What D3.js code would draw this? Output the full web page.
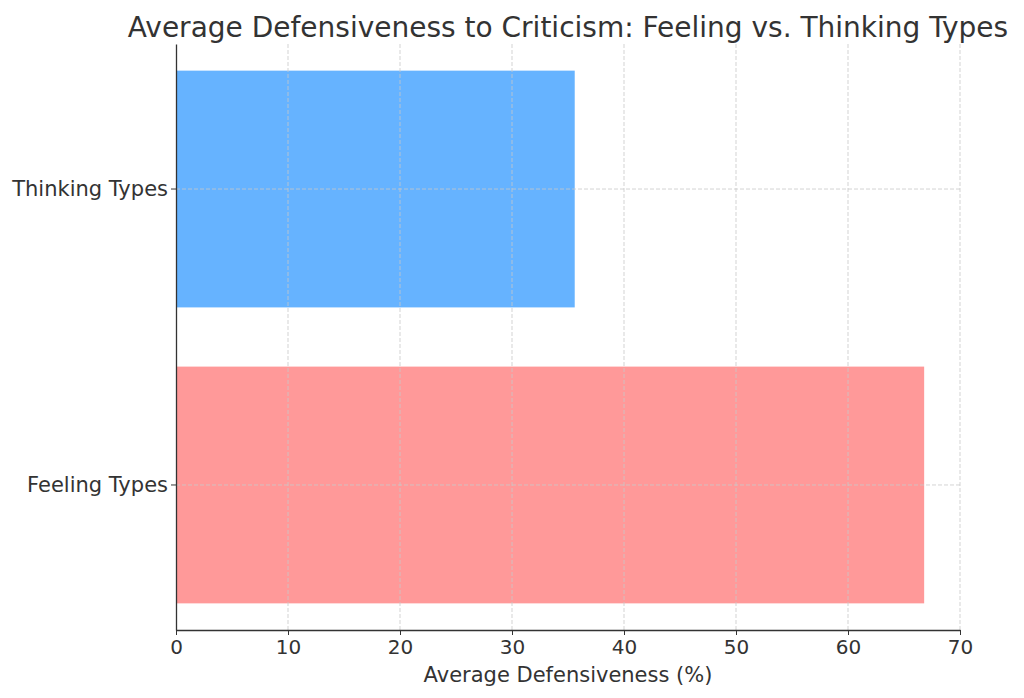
<!DOCTYPE html>
<html>
<head>
<meta charset="utf-8">
<script src="https://cdn.jsdelivr.net/npm/d3@7"></script>
<style>
  body { margin: 0; background: #fff; }
  text { font-family: "DejaVu Sans", sans-serif; fill: #333; }
</style>
</head>
<body>
<div id="chart"></div>
<script>
// data
const categories = ["Thinking Types", "Feeling Types"];
const values = [35.6, 66.8];
const colors = ["#66b3ff", "#ff9999"];
const xTicks = [0, 10, 20, 30, 40, 50, 60, 70];

const width = 1024, height = 698;
const margin = {top: 44, right: 64, bottom: 68, left: 176};

let svg = d3.select("#chart")
  .append("svg")
  .attr("width", width)
  .attr("height", height);

let x = d3.scaleLinear()
  .domain([0, 70])
  .range([margin.left, width - margin.right]);

let y = d3.scaleBand()
  .domain(categories)
  .range([margin.top, height - margin.bottom])
  .paddingInner(0.2)
  .paddingOuter(0.09);

// bars
svg.selectAll(".bar")
  .data(categories)
  .enter()
  .append("rect")
  .attr("class", "bar")
  .attr("x", x(0))
  .attr("y", d => y(d))
  .attr("width", (d, i) => x(values[i]) - x(0))
  .attr("height", y.bandwidth())
  .attr("fill", (d, i) => colors[i]);

// grid over the bars
svg.append("g")
  .selectAll("line")
  .data(xTicks.slice(1))
  .enter()
  .append("line")
  .attr("x1", d => x(d))
  .attr("x2", d => x(d))
  .attr("y1", margin.top)
  .attr("y2", height - margin.bottom)
  .style("stroke", "#c8c8c8")
  .style("stroke-width", 0.8)
  .style("stroke-dasharray", "4,2");

svg.append("g")
  .selectAll("line")
  .data(categories)
  .enter()
  .append("line")
  .attr("x1", margin.left)
  .attr("x2", width - margin.right)
  .attr("y1", d => y(d) + y.bandwidth() / 2)
  .attr("y2", d => y(d) + y.bandwidth() / 2)
  .style("stroke", "#c8c8c8")
  .style("stroke-width", 0.8)
  .style("stroke-dasharray", "4,2");

// x axis
let xAxis = svg.append("g")
  .attr("transform", "translate(0," + (height - margin.bottom) + ")")
  .call(d3.axisBottom(x).tickValues(xTicks).tickSize(5).tickPadding(5).tickSizeOuter(0));
xAxis.select(".domain").style("stroke", "#333").style("stroke-width", 1.3);
xAxis.selectAll(".tick line").style("stroke", "#333");
xAxis.selectAll("text").style("font-size", "20px").style("fill", "#333");

// y axis
let yAxis = svg.append("g")
  .attr("transform", "translate(" + margin.left + ",0)")
  .call(d3.axisLeft(y).tickSize(5).tickPadding(3).tickSizeOuter(0));
yAxis.select(".domain").style("stroke", "#333").style("stroke-width", 1.3);
yAxis.selectAll(".tick line").style("stroke", "#333");
yAxis.selectAll("text").style("font-size", "21px").style("fill", "#333");

// labels
svg.append("text")
  .attr("x", (margin.left + width - margin.right) / 2)
  .attr("y", 682)
  .attr("text-anchor", "middle")
  .style("font-size", "21px")
  .text("Average Defensiveness (%)");

svg.append("text")
  .attr("x", (margin.left + width - margin.right) / 2)
  .attr("y", 37)
  .attr("text-anchor", "middle")
  .style("font-size", "28px")
  .text("Average Defensiveness to Criticism: Feeling vs. Thinking Types");
</script>
</body>
</html>
